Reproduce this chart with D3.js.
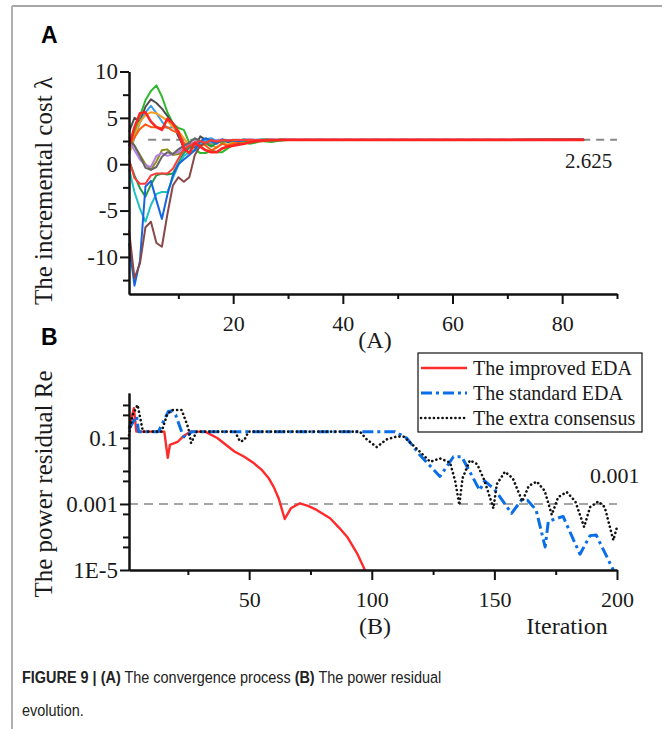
<!DOCTYPE html>
<html>
<head>
<meta charset="utf-8">
<script src="https://cdn.jsdelivr.net/npm/d3@7/dist/d3.min.js"></script>
<style>
body { margin: 0; background: #fff; }
svg { display: block; }
.axis path, .axis line { stroke: #111; stroke-width: 2; }
.axis text { font-family: "Liberation Serif", "Times New Roman", serif; font-size: 22px; fill: #1a1a1a; }
.axis.big text { font-size: 23px; }
.serif { font-family: "Liberation Serif", "Times New Roman", serif; fill: #1a1a1a; }
.panel-letter { font-family: "Liberation Sans", Arial, sans-serif; font-weight: bold; font-size: 23px; fill: #000; }
.caption { font-family: "Liberation Sans", Arial, sans-serif; font-size: 17px; fill: #222; }
</style>
</head>
<body>
<svg id="chart" width="662" height="729"></svg>
<script>
// ---------- data: panel A, incremental cost per agent, iterations 1..30 ----------
var lambdaIter = d3.range(1, 31);
var lambdaEndIter = 84;
var lambdaFinal = 2.625;

var lambdaGreen    = [1.5, 3.4, 5.2, 6.9, 7.9, 8.5, 7.3, 5.6, 4.4, 3.9, 3.7, 2.3, 1.6, 1.2, 1.2, 1.5, 1.3, 1.3, 1.7, 2.1, 2.3, 2.4, 2.2, 2.3, 2.5, 2.45, 2.4, 2.5, 2.55, 2.6];
var lambdaDarkGray = [3.5, 5.0, 4.6, 6.2, 7.0, 6.6, 6.0, 5.2, 4.4, 3.0, 1.9, 1.9, 1.8, 3.0, 2.6, 2.2, 2.6, 2.4, 1.9, 2.0, 2.3, 2.5, 2.4, 2.6, 2.55, 2.65, 2.6, 2.62, 2.6, 2.63];
var lambdaSky      = [1.2, 2.8, 4.5, 5.6, 6.3, 5.5, 4.6, 3.9, 4.0, 3.5, 2.3, 1.7, 2.0, 2.4, 2.7, 2.8, 2.5, 2.4, 2.6, 2.3, 2.5, 2.7, 2.5, 2.6, 2.65, 2.6, 2.62, 2.6, 2.63, 2.62];
var lambdaOrange   = [1.0, 3.0, 4.6, 5.3, 5.6, 5.5, 5.1, 4.7, 4.0, 3.6, 2.8, 2.0, 1.6, 1.9, 2.2, 2.0, 1.8, 2.3, 2.1, 2.4, 2.5, 2.4, 2.6, 2.55, 2.6, 2.63, 2.6, 2.62, 2.63, 2.62];
var lambdaRedOr    = [2.0, 2.9, 3.8, 4.3, 4.0, 4.0, 3.9, 4.0, 3.6, 3.4, 2.3, 1.8, 2.3, 2.5, 2.0, 1.5, 1.8, 2.2, 2.0, 2.2, 2.4, 2.5, 2.45, 2.6, 2.55, 2.6, 2.62, 2.6, 2.63, 2.62];
var lambdaOlive    = [2.9, 2.0, 1.0, 0.0, -0.6, 0.3, 1.5, 1.6, 1.0, 1.1, 1.4, 1.9, 2.3, 2.1, 2.4, 2.2, 2.5, 2.3, 2.6, 2.5, 2.55, 2.6, 2.58, 2.62, 2.6, 2.63, 2.62, 2.62, 2.63, 2.62];
var lambdaLavender = [2.5, 1.5, 0.5, -0.1, -0.3, 0.9, 1.2, 0.9, 1.1, 1.3, 1.8, 2.1, 2.4, 2.2, 2.5, 2.3, 2.6, 2.5, 2.55, 2.6, 2.58, 2.62, 2.6, 2.63, 2.62, 2.62, 2.63, 2.62, 2.62, 2.63];
var lambdaGray     = [2.6, 2.0, 0.9, -0.4, -0.6, -0.3, 0.8, 1.3, 1.1, 1.6, 2.0, 2.3, 2.8, 2.5, 2.3, 2.6, 2.4, 2.6, 2.5, 2.62, 2.55, 2.6, 2.62, 2.6, 2.63, 2.62, 2.62, 2.63, 2.62, 2.62];
var lambdaDkGreen  = [0.4, -1.2, -2.6, -3.5, -2.2, -1.2, -1.0, -1.1, -1.0, 0.1, 1.2, 1.8, 2.2, 2.5, 2.3, 1.9, 2.3, 2.6, 2.4, 2.55, 2.6, 2.5, 2.6, 2.62, 2.6, 2.63, 2.62, 2.62, 2.63, 2.62];
var lambdaCyan     = [-0.5, -3.0, -4.8, -6.2, -4.4, -3.2, -3.0, -3.0, -1.5, -0.1, 0.9, 1.3, 1.5, 2.0, 2.7, 2.4, 2.3, 2.6, 2.5, 2.6, 2.55, 2.62, 2.6, 2.6, 2.63, 2.62, 2.62, 2.62, 2.63, 2.62];
var lambdaBlue     = [-8.5, -13.1, -10.4, -2.4, -1.8, -3.9, -5.9, -3.3, -1.2, 0.0, 0.5, 1.0, 1.5, 2.5, 2.8, 2.5, 2.2, 2.7, 2.4, 2.6, 2.5, 2.6, 2.63, 2.6, 2.62, 2.62, 2.63, 2.62, 2.62, 2.62];
var lambdaBrown    = [-7.1, -12.3, -10.7, -6.8, -6.2, -8.5, -8.9, -5.4, -2.3, -1.4, -1.9, -1.4, 1.0, 2.0, 2.3, 2.6, 2.4, 2.6, 2.5, 2.62, 2.6, 2.63, 2.6, 2.62, 2.62, 2.63, 2.62, 2.62, 2.62, 2.62];
var lambdaLowRed   = [0.5, -1.5, -2.1, -2.1, -1.2, -1.0, -1.0, -1.0, -0.5, 0.6, 1.6, 2.0, 2.3, 2.5, 2.3, 2.6, 2.45, 2.6, 2.55, 2.6, 2.62, 2.6, 2.63, 2.62, 2.62, 2.62, 2.63, 2.62, 2.62, 2.62];
var lambdaRed      = [1.9, 4.0, 5.5, 5.6, 4.6, 4.0, 3.7, 4.9, 4.4, 3.5, 1.7, 1.2, 2.3, 1.9, 1.5, 1.3, 1.3, 1.7, 1.9, 2.0, 2.1, 2.2, 2.35, 2.45, 2.5, 2.55, 2.6, 2.6, 2.62, 2.62];

var lambdaColors = ["#2db82d", "#4d4d4d", "#3a9ee4", "#f0a020", "#ff5a14", "#8e8e16", "#b47ee6",
                    "#666666", "#229a48", "#1fc0c4", "#1565e0", "#8a4848", "#ff3b3b", "#ff2424"];
var lambdaSeries = [lambdaGreen, lambdaDarkGray, lambdaSky, lambdaOrange, lambdaRedOr, lambdaOlive, lambdaLavender,
                    lambdaGray, lambdaDkGreen, lambdaCyan, lambdaBlue, lambdaBrown, lambdaLowRed, lambdaRed];

var aXMajor = [20, 40, 60, 80], aXMinor = [10, 30, 50, 70, 90];
var aYMajor = [-10, -5, 0, 5, 10], aYMinor = [-12.5, -7.5, -2.5, 2.5, 7.5];

// ---------- data: panel B, power residual [iteration, value] ----------
var improvedEDA = [[1, 0.19], [3, 0.8], [4, 0.155], [15.4, 0.155], [16.8, 0.025], [17.7, 0.062], [21, 0.078],
    [23, 0.11], [26, 0.155], [32, 0.155], [37, 0.1], [44, 0.039], [48, 0.027], [52, 0.017], [55, 0.011],
    [58, 0.006], [60, 0.0033], [62, 0.0015], [64.5, 0.00035], [67, 0.00074], [70.7, 0.00105], [74, 0.00088],
    [77.5, 0.00066], [83, 0.00037], [87, 0.00018], [90, 0.0001], [94, 3.2e-5], [97.2, 1e-5]];
var standardEDA = [[1, 0.19], [4.1, 0.45], [4.9, 0.155], [13, 0.155], [17, 0.63], [18.2, 0.66], [20, 0.5],
    [23, 0.12], [24, 0.1], [26.5, 0.155], [109.5, 0.155], [114.2, 0.1], [119.7, 0.03], [127.8, 0.0068],
    [133.3, 0.027], [136.7, 0.027], [144, 0.0026], [146, 0.005], [150, 0.0028], [157, 0.00052], [161, 0.0013],
    [163.5, 0.0013], [167, 0.00066], [170.7, 5e-5], [172, 0.0003], [178, 0.00042], [184.9, 3e-5], [189, 0.00011],
    [191.5, 0.000115], [198.5, 1e-5]];
var extraConsensus = [[1, 0.12], [2.5, 0.5], [4.5, 1.0], [6.7, 0.155], [14.3, 0.155], [16.5, 0.5], [18.4, 0.7],
    [22.5, 0.7], [25.2, 0.2], [26.3, 0.07], [28.6, 0.155], [44.2, 0.155], [46.3, 0.078], [48, 0.085], [49.7, 0.155],
    [95.2, 0.155], [98, 0.09], [102, 0.053], [106, 0.09], [110, 0.11], [113, 0.11], [118, 0.05], [123.8, 0.019],
    [127.8, 0.024], [131.9, 0.018], [134, 0.005], [135.7, 0.00093], [137, 0.006], [140, 0.021], [143, 0.016],
    [146, 0.005], [149.6, 0.00074], [151, 0.004], [154.3, 0.0095], [157.5, 0.006], [161.4, 0.0012], [164, 0.0035],
    [167.3, 0.0048], [170.5, 0.0025], [173.4, 0.00047], [176, 0.0016], [179.5, 0.0023], [183, 0.0012],
    [186.6, 0.0002], [189, 0.0008], [192.4, 0.0012], [195, 0.0008], [198.5, 8e-5], [200, 0.0002]];
var residualRef = 0.001;

var legendNames = ["The improved EDA", "The standard EDA", "The extra consensus"];
var bXMajor = [50, 100, 150, 200], bXMinor = [25, 75, 125, 175];
var bYMajor = [1e-5, 1e-3, 0.1], bYLabels = ["1E-5", "0.001", "0.1"];
var bYMinor = [1, 0.5, 0.05, 0.01, 0.005, 5e-4, 1e-4, 5e-5];

var svg = d3.select("#chart");

// frame lines of the figure
svg.append("line").attr("x1", 12).attr("x2", 662).attr("y1", 6).attr("y2", 6)
    .attr("stroke", "#888").attr("stroke-width", 1.5);
svg.append("line").attr("x1", 12).attr("x2", 12).attr("y1", 6).attr("y2", 729)
    .attr("stroke", "#b0b0b0").attr("stroke-width", 2);

/***************************
/         PANEL A
****************************/
var xA = d3.scaleLinear().domain([1, 90]).range([129, 617]);
var yA = d3.scaleLinear().domain([-14, 10]).range([294, 71.5]);

// reference value dashed line (under the curves)
svg.append("line")
    .attr("x1", xA(4.5)).attr("x2", xA(90))
    .attr("y1", yA(lambdaFinal)).attr("y2", yA(lambdaFinal))
    .attr("stroke", "#888").attr("stroke-width", 2).attr("stroke-dasharray", "8,6");

var lineA = d3.line()
    .x(d => xA(d[0]))
    .y(d => yA(d[1]));

lambdaSeries.forEach(function(vals, i) {
    var pts = vals.map((v, j) => [lambdaIter[j], v]);
    pts.push([lambdaEndIter, lambdaFinal]);
    svg.append("path")
        .datum(pts)
        .attr("fill", "none")
        .attr("stroke", lambdaColors[i])
        .attr("stroke-width", i === lambdaSeries.length - 1 ? 2.6 : 2)
        .attr("stroke-linejoin", "round")
        .attr("d", lineA);
});

// axes A (plain hyphen for negatives, like the original)
svg.append("g").attr("class", "axis")
    .attr("transform", "translate(0," + yA(-14) + ")")
    .call(d3.axisBottom(xA).tickValues(aXMinor).tickSize(5).tickSizeOuter(0).tickFormat(""));
svg.append("g").attr("class", "axis")
    .attr("transform", "translate(0," + yA(-14) + ")")
    .call(d3.axisBottom(xA).tickValues(aXMajor).tickSize(10).tickSizeOuter(0).tickPadding(11));
svg.append("g").attr("class", "axis")
    .attr("transform", "translate(" + xA(1) + ",0)")
    .call(d3.axisLeft(yA).tickValues(aYMinor).tickSize(6).tickSizeOuter(0).tickFormat(""));
svg.append("g").attr("class", "axis big")
    .attr("transform", "translate(" + xA(1) + ",0)")
    .call(d3.axisLeft(yA).tickValues(aYMajor).tickSize(9).tickSizeOuter(0).tickPadding(2)
        .tickFormat(d => String(d)));

svg.append("text").attr("class", "serif")
    .attr("x", 565).attr("y", 168)
    .style("font-size", "21px")
    .text(lambdaFinal);

svg.append("text").attr("class", "serif")
    .attr("transform", "translate(52,191) rotate(-90)")
    .style("text-anchor", "middle").style("font-size", "25px")
    .text("The incremental cost \u03bb");

svg.append("text").attr("class", "serif")
    .attr("x", 375).attr("y", 348)
    .style("text-anchor", "middle").style("font-size", "24px")
    .text("(A)");

svg.append("text").attr("class", "panel-letter").attr("x", 41).attr("y", 43).text("A");

/***************************
/         PANEL B
****************************/
var xB = d3.scaleLinear().domain([1, 200]).range([129, 617]);
var yB = d3.scaleLog().domain([1e-5, 2.3]).range([570, 393]);

svg.append("line")
    .attr("x1", xB(1)).attr("x2", xB(200))
    .attr("y1", yB(residualRef)).attr("y2", yB(residualRef))
    .attr("stroke", "#888").attr("stroke-width", 1.6).attr("stroke-dasharray", "9,6");

var lineB = d3.line()
    .x(d => xB(d[0]))
    .y(d => yB(d[1]));

var bStyles = [
    { color: "#ff2a2a", width: 2.4, dash: null, cap: "butt" },
    { color: "#0a6ee8", width: 3, dash: "11,4,3,4", cap: "butt" },
    { color: "#111", width: 2.6, dash: "0.1,4.2", cap: "round" }
];
[improvedEDA, standardEDA, extraConsensus].forEach(function(series, i) {
    svg.append("path")
        .datum(series)
        .attr("fill", "none")
        .attr("stroke", bStyles[i].color)
        .attr("stroke-width", bStyles[i].width)
        .attr("stroke-dasharray", bStyles[i].dash)
        .attr("stroke-linecap", bStyles[i].cap)
        .attr("stroke-linejoin", "round")
        .attr("d", lineB);
});

// axes B
svg.append("g").attr("class", "axis")
    .attr("transform", "translate(0," + yB(1e-5) + ")")
    .call(d3.axisBottom(xB).tickValues(bXMinor).tickSize(5).tickSizeOuter(0).tickFormat(""));
svg.append("g").attr("class", "axis")
    .attr("transform", "translate(0," + yB(1e-5) + ")")
    .call(d3.axisBottom(xB).tickValues(bXMajor).tickSize(10).tickSizeOuter(0).tickPadding(11));
svg.append("g").attr("class", "axis")
    .attr("transform", "translate(" + xB(1) + ",0)")
    .call(d3.axisLeft(yB).tickValues(bYMinor).tickSize(6).tickSizeOuter(0).tickFormat(""));
svg.append("g").attr("class", "axis big")
    .attr("transform", "translate(" + xB(1) + ",0)")
    .call(d3.axisLeft(yB).tickValues(bYMajor).tickSize(9).tickSizeOuter(0).tickPadding(2)
        .tickFormat((d, i) => bYLabels[i]));

svg.append("text").attr("class", "serif")
    .attr("x", 590).attr("y", 483)
    .style("font-size", "22px")
    .text(residualRef);

svg.append("text").attr("class", "serif")
    .attr("transform", "translate(52,484) rotate(-90)")
    .style("text-anchor", "middle").style("font-size", "25px")
    .text("The power residual Re");

svg.append("text").attr("class", "serif")
    .attr("x", 375).attr("y", 634)
    .style("text-anchor", "middle").style("font-size", "24px")
    .text("(B)");
svg.append("text").attr("class", "serif")
    .attr("x", 567).attr("y", 634)
    .style("text-anchor", "middle").style("font-size", "24px")
    .text("Iteration");

svg.append("text").attr("class", "panel-letter").attr("x", 41).attr("y", 345).text("B");

// legend
var legend = svg.append("g").attr("transform", "translate(418,353)");
legend.append("rect")
    .attr("width", 224).attr("height", 79)
    .attr("fill", "#fff").attr("stroke", "#111").attr("stroke-width", 1.2);
legendNames.forEach(function(name, i) {
    var ly = 15 + i * 25;
    legend.append("line")
        .attr("x1", 3).attr("x2", 49).attr("y1", ly).attr("y2", ly)
        .attr("stroke", bStyles[i].color)
        .attr("stroke-width", bStyles[i].width)
        .attr("stroke-dasharray", bStyles[i].dash)
        .attr("stroke-linecap", bStyles[i].cap);
    legend.append("text").attr("class", "serif")
        .attr("x", 55).attr("y", ly + 7)
        .style("font-size", "20px")
        .text(name);
});

// caption, squeezed horizontally like the narrow original face
var cap = svg.append("text").attr("class", "caption")
    .attr("transform", "translate(22,683) scale(0.85,1)");
cap.append("tspan").style("font-weight", "bold").text("FIGURE 9 | (A)");
cap.append("tspan").text(" The convergence process ");
cap.append("tspan").style("font-weight", "bold").text("(B)");
cap.append("tspan").text(" The power residual");
svg.append("text").attr("class", "caption")
    .attr("transform", "translate(22,716) scale(0.85,1)")
    .text("evolution.");
</script>
</body>
</html>
